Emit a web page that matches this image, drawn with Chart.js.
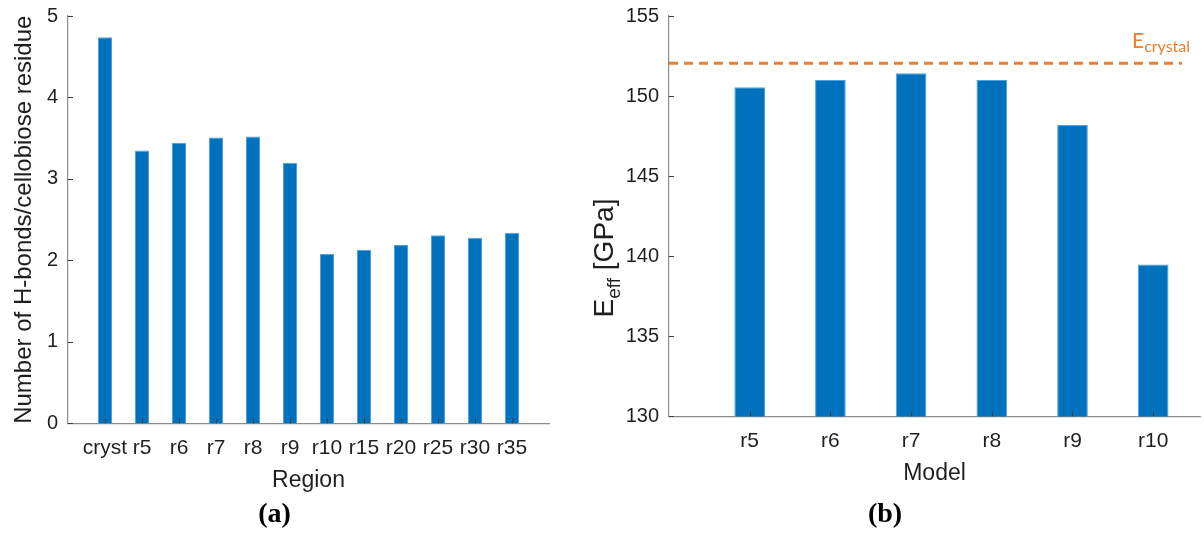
<!DOCTYPE html>
<html>
<head>
<meta charset="utf-8">
<script src="https://cdn.jsdelivr.net/npm/chart.js@4.4.1/dist/chart.umd.min.js"></script>
<style>
  html, body { margin: 0; padding: 0; background: #fff; }
  body { width: 1204px; height: 533px; position: relative; overflow: hidden; }
  .panel { position: absolute; top: 0; height: 533px; }
  #panelA { left: 0; width: 560px; }
  #panelB { left: 570px; width: 634px; }
</style>
</head>
<body>
<div class="panel" id="panelA"><canvas id="chartA"></canvas></div>
<div class="panel" id="panelB"><canvas id="chartB"></canvas></div>
<script>
// panel (a): H-bonds per cellobiose residue by region
const regions = ["cryst", "r5", "r6", "r7", "r8", "r9", "r10", "r15", "r20", "r25", "r30", "r35"];
const hbonds = [4.74, 3.35, 3.44, 3.51, 3.52, 3.20, 2.08, 2.13, 2.19, 2.31, 2.28, 2.34];
const hbondTicks = [0, 1, 2, 3, 4, 5];

// panel (b): effective modulus by model
const models = ["r5", "r6", "r7", "r8", "r9", "r10"];
const modulus = [150.55, 151.0, 151.42, 151.0, 148.2, 139.48];
const modulusTicks = [130, 135, 140, 145, 150, 155];
const eCrystal = 152.05;

const BLUE = "#0072BD";
const ORANGE = "#ED7D31";
const AXIS = "#8c8c8c";
const TEXT = "#1f1f1f";
const SANS = "'Liberation Sans', Arial, sans-serif";

Chart.defaults.font.family = SANS;
Chart.defaults.color = TEXT;
Chart.defaults.animation = false;

// MATLAB style: tick marks pointing into the axes
const inwardTicks = {
  id: "inwardTicks",
  afterDatasetsDraw(chart) {
    const ctx = chart.ctx;
    const { x, y } = chart.scales;
    const area = chart.chartArea;
    ctx.save();
    ctx.strokeStyle = "#404040";
    ctx.lineWidth = 1;
    ctx.beginPath();
    x.ticks.forEach((t) => {
      const px = Math.round(x.getPixelForValue(t.value)) + 0.5;
      ctx.moveTo(px, area.bottom);
      ctx.lineTo(px, area.bottom - 5);
    });
    y.ticks.forEach((t) => {
      const py = Math.round(y.getPixelForValue(t.value)) + 0.5;
      ctx.moveTo(area.left, py);
      ctx.lineTo(area.left + 5, py);
    });
    ctx.stroke();
    ctx.restore();
  },
};

function barChart(id, labels, values, yTicks, opts) {
  return new Chart(document.getElementById(id), {
    type: "bar",
    data: {
      datasets: [
        {
          data: values.map((v, i) => ({ x: i + 1, y: v })),
          backgroundColor: BLUE,
          borderColor: "#4da3e0",
          borderWidth: { top: 1, left: 1, right: 1, bottom: 0 },
          borderSkipped: "bottom",
          categoryPercentage: 1,
          barPercentage: 0.38,
        },
      ],
    },
    options: {
      responsive: true,
      maintainAspectRatio: false,
      layout: { padding: opts.padding },
      plugins: {
        legend: { display: false },
        tooltip: { enabled: false },
        title: {
          display: true,
          position: "bottom",
          text: opts.caption,
          color: "#000",
          font: { family: "'Liberation Serif', 'Times New Roman', serif", size: 28, weight: "bold" },
          padding: { top: 3, bottom: 1 },
        },
      },
      scales: {
        x: {
          type: "linear",
          offset: false,
          min: 0,
          max: opts.xMax,
          grid: { display: false, drawTicks: false },
          border: { display: true, color: AXIS, width: 1.2 },
          afterBuildTicks: (s) => { s.ticks = labels.map((_, i) => ({ value: i + 1 })); },
          ticks: {
            autoSkip: false,
            maxRotation: 0,
            padding: 12,
            font: { size: 21 },
            color: TEXT,
            callback: (v) => labels[v - 1] || "",
          },
          title: {
            display: true,
            text: opts.xTitle,
            font: { size: 23 },
            color: TEXT,
            padding: { top: 0, bottom: opts.xTitlePad },
          },
          afterFit: (s) => {
            s.height = opts.xHeight;
            s.paddingLeft = 0;
            s.paddingRight = 0;
          },
        },
        y: {
          min: yTicks[0],
          max: yTicks[yTicks.length - 1],
          grid: { display: false, drawTicks: false },
          border: { display: true, color: AXIS, width: 1.2 },
          afterBuildTicks: (s) => { s.ticks = yTicks.map((v) => ({ value: v })); },
          ticks: { padding: 10, font: { size: 20 }, color: TEXT },
          title: {
            display: !!opts.yTitle,
            text: opts.yTitle,
            font: { size: 24 },
            color: TEXT,
            padding: { top: 10, bottom: 0 },
          },
          afterFit: (s) => {
            s.width = opts.yWidth;
            s.paddingTop = 0;
            s.paddingBottom = 0;
          },
        },
      },
    },
    plugins: [inwardTicks].concat(opts.plugins || []),
  });
}

// dashed reference line for the crystal modulus, plus the subscripted y label
const crystalLine = {
  id: "crystalLine",
  afterDatasetsDraw(chart) {
    const ctx = chart.ctx;
    const { y } = chart.scales;
    const area = chart.chartArea;
    const py = y.getPixelForValue(eCrystal);
    ctx.save();
    ctx.strokeStyle = ORANGE;
    ctx.lineWidth = 3;
    ctx.setLineDash([9, 6]);
    ctx.beginPath();
    ctx.moveTo(area.left, py);
    ctx.lineTo(area.right - 18, py);
    ctx.stroke();
    ctx.setLineDash([]);

    // E_crystal label
    ctx.fillStyle = ORANGE;
    ctx.textBaseline = "alphabetic";
    ctx.font = "21px Lato, 'Open Sans', sans-serif";
    const ex = area.right - 68;
    const ey = py - 15;
    ctx.fillText("E", ex, ey);
    const ew = ctx.measureText("E").width;
    ctx.font = "16px Lato, 'Open Sans', sans-serif";
    ctx.fillText("crystal", ex + ew, ey + 4);
    ctx.restore();
  },
  afterDraw(chart) {
    const ctx = chart.ctx;
    const big = "28px " + SANS;
    const small = "19px " + SANS;
    ctx.save();
    ctx.font = big;
    const wE = ctx.measureText("E").width;
    const wUnit = ctx.measureText(" [GPa]").width;
    ctx.font = small;
    const wSub = ctx.measureText("eff").width;
    const total = wE + wSub + wUnit;
    ctx.translate(43, 258);
    ctx.rotate(-Math.PI / 2);
    ctx.fillStyle = TEXT;
    ctx.textBaseline = "alphabetic";
    let cx = -total / 2;
    ctx.font = big;
    ctx.fillText("E", cx, 0);
    cx += wE;
    ctx.font = small;
    ctx.fillText("eff", cx, 7);
    cx += wSub;
    ctx.font = big;
    ctx.fillText(" [GPa]", cx, 0);
    ctx.restore();
  },
};

barChart("chartA", regions, hbonds, hbondTicks, {
  caption: "(a)",
  xTitle: "Region",
  yTitle: "Number of H-bonds/cellobiose residue",
  xMax: 13,
  xHeight: 72,
  xTitlePad: 1,
  yWidth: 68,
  padding: { top: 16, right: 11, left: 0, bottom: 0 },
});

barChart("chartB", models, modulus, modulusTicks, {
  caption: "(b)",
  xTitle: "Model",
  yTitle: "",
  xMax: 6.58,
  xHeight: 79,
  xTitlePad: 8,
  yWidth: 99,
  padding: { top: 16, right: 4, left: 0, bottom: 0 },
  plugins: [crystalLine],
});
</script>
</body>
</html>
